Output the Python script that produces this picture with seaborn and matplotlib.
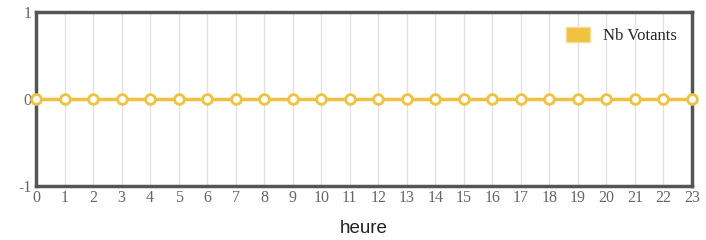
import pandas as pd
import seaborn as sns
import matplotlib.pyplot as plt
from matplotlib.patches import Patch

# Data: votes per hour
heures = list(range(24))
nb_votants = [0] * 24

df = pd.DataFrame({'heure': heures, 'Nb Votants': nb_votants})

sns.set_style('white')
plt.rcParams['font.family'] = ['Liberation Serif', 'DejaVu Serif']
plt.rcParams['axes.unicode_minus'] = False

fig = plt.figure(figsize=(7.06, 2.4), dpi=100)
ax = fig.add_axes([0.051, 0.225, 0.929, 0.725])

gold = '#efc23f'
sns.lineplot(data=df, x='heure', y='Nb Votants', ax=ax, color=gold, linewidth=2.5,
             marker='o', markersize=7, markerfacecolor='white', markeredgecolor=gold,
             markeredgewidth=2, zorder=3, clip_on=False)

ax.set_xlim(0, 23)
ax.set_ylim(-1, 1)
ax.set_xticks(heures)
ax.set_yticks([-1, 0, 1])
ax.xaxis.grid(True, color='#e2e2e2', linewidth=1)
ax.yaxis.grid(False)
for s in ax.spines.values():
    s.set_color('#555555')
    s.set_linewidth(2.5)
ax.tick_params(axis='both', length=0, labelsize=11.5, labelcolor='#666666', pad=3)
ax.set_xlabel('heure', fontsize=13.5, family='Liberation Sans', color='#222222', labelpad=10)
ax.set_ylabel('')

ax.legend(handles=[Patch(facecolor=gold, edgecolor='#f5dc8f', label='Nb Votants')],
          loc='upper right', frameon=False, fontsize=12, handlelength=1.4,
          handleheight=1.0, borderaxespad=0.5)

fig.savefig('out.png', dpi=100)
